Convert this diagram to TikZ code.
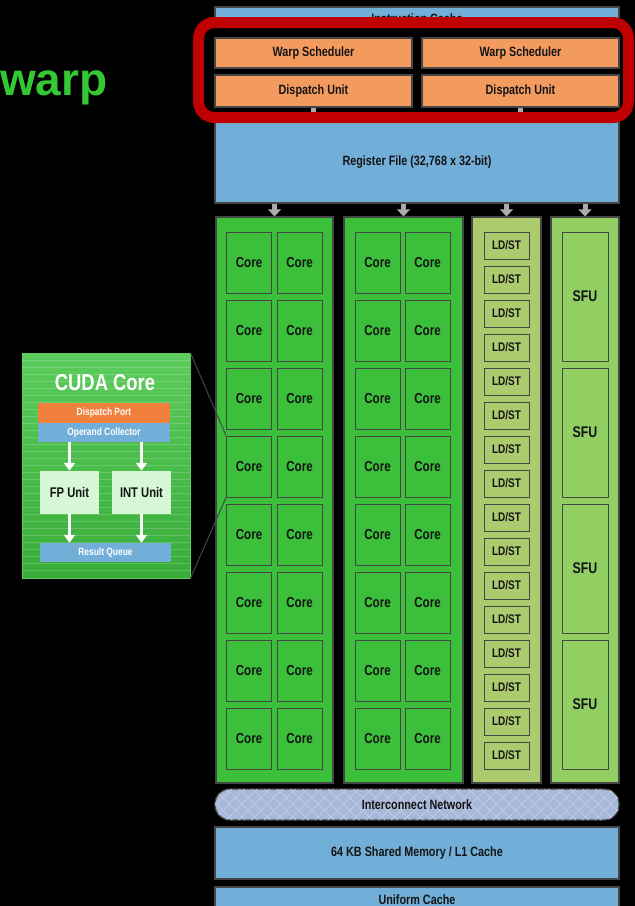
\documentclass[tikz,border=0pt]{standalone}
\usepackage{fontspec}
\setmainfont{Liberation Sans}
\newfontfamily\narrow{Liberation Sans}[FakeStretch=0.8]
\usetikzlibrary{arrows.meta,patterns.meta}
\definecolor{regblue}{RGB}{114,175,216}
\definecolor{schedorange}{RGB}{243,155,95}
\definecolor{portorange}{RGB}{240,128,60}
\definecolor{coregreen}{RGB}{60,192,60}
\definecolor{ldstgreen}{RGB}{172,203,110}
\definecolor{sfugreen}{RGB}{145,207,99}
\definecolor{netblue}{RGB}{168,184,216}
\definecolor{netline}{RGB}{192,204,230}
\definecolor{edge}{RGB}{70,70,70}
\definecolor{ink}{RGB}{20,20,20}
\definecolor{feedgray}{RGB}{170,170,170}
\definecolor{hilite}{RGB}{192,0,0}
\definecolor{warpgreen}{RGB}{52,200,52}
\definecolor{insettop}{RGB}{92,204,92}
\definecolor{insetbot}{RGB}{56,172,56}
\definecolor{palegreen}{RGB}{214,248,214}
\begin{document}
\begin{tikzpicture}
  [x=1pt,y=-1pt,every node/.style={inner sep=0pt,text=ink,font={\narrow\bfseries\fontsize{13.5}{15}\selectfont}}]
  \tikzstyle{unit} = [draw=edge,line width=1.2pt,fill=regblue,minimum width=404pt]
  \tikzstyle{sched} = [draw=edge,line width=1.2pt,fill=schedorange,minimum width=197pt]
  \tikzstyle{lane} = [draw=edge,line width=1.2pt,minimum height=566pt]
  \tikzstyle{core} = [draw=edge,line width=1pt,fill=coregreen,minimum width=45pt,minimum height=61pt,font={\narrow\bfseries\fontsize{14.5}{16}\selectfont}]
  \tikzstyle{ldst} = [draw=edge,line width=1pt,fill=ldstgreen,minimum width=45pt,minimum height=27pt,font={\narrow\bfseries\fontsize{12.5}{14}\selectfont}]
  \tikzstyle{sfu} = [draw=edge,line width=1pt,fill=sfugreen,minimum width=46pt,minimum height=129pt,font={\narrow\bfseries\fontsize{15.5}{17}\selectfont}]
  \tikzstyle{feed} = [draw=feedgray,line width=5pt,-{Triangle[width=13pt,length=7pt]}]
  \tikzstyle{stub} = [draw=feedgray,line width=5pt]
  \tikzstyle{flow} = [draw=white,line width=3.5pt,-{Triangle[width=11pt,length=8pt]}]
  \tikzstyle{bar} = [text=white,minimum width=132pt,font={\narrow\bfseries\fontsize{10.5}{12}\selectfont}]
  \tikzstyle{zoomline} = [draw=edge,line width=1pt]

  \useasboundingbox (0,0) rectangle (635,906);
  \fill[black] (0,0) rectangle (635,906);

  \node[anchor=base west,text=warpgreen,font={\bfseries\fontsize{46}{50}\selectfont}] (warp) at (0,95) {warp};

  % front end
  \node[unit,minimum height=24pt] (ic) at (417,19) {Instruction Cache};
  \node[unit,minimum height=82pt] (rf) at (417,162) {Register File (32,768 x 32-bit)};
  \fill[black,rounded corners=16pt] (198.5,22.5) rectangle (628.5,117.5);
  \node[sched,minimum height=30pt] (ws1) at (313.5,53) {Warp Scheduler};
  \node[sched,minimum height=30pt] (ws2) at (520.5,53) {Warp Scheduler};
  \node[sched,minimum height=32pt] (du1) at (313.5,91) {Dispatch Unit};
  \node[sched,minimum height=32pt] (du2) at (520.5,91) {Dispatch Unit};
  \foreach \src in {du1,du2}
    \draw[stub] (\src.south) -- (\src.south |- rf.north);
  \draw[hilite,line width=11pt,rounded corners=16pt] (198.5,22.5) rectangle (628.5,117.5);

  % execution lanes
  \foreach \lane/\cx/\w/\shade in {c1/274.5/117/coregreen,c2/403.5/119/coregreen,c3/506.5/69/ldstgreen,c4/585/68/sfugreen}
  {
    \node[lane,fill=\shade,minimum width=\w pt] (\lane) at (\cx,500) {};
    \draw[feed] (\lane |- rf.south) -- (\lane.north);
  }
  \foreach \r in {1,...,8}
    \foreach \c/\cx in {1/249,2/299.5,3/377.5,4/427.5}
      \node[core] (core-\r-\c) at (\cx,{262.5+68*(\r-1)}) {Core};
  \foreach \r in {1,...,16}
    \node[ldst] (ls\r) at (506.5,{245.5+34*(\r-1)}) {LD/ST};
  \foreach \r in {1,...,4}
    \node[sfu] (sfu\r) at (585,{296.5+136*(\r-1)}) {SFU};

  % memory side
  \node[unit,fill=netblue,rounded corners=15pt,minimum height=31pt,
    postaction={pattern={Lines[angle=45,distance=9pt,line width=.8pt]},pattern color=netline},
    postaction={pattern={Lines[angle=-45,distance=9pt,line width=.8pt]},pattern color=netline}] (net) at (417,804.5) {Interconnect Network};
  \node[unit,minimum height=52pt] (smem) at (417,853) {64 KB Shared Memory / L1 Cache};
  \node[unit,minimum height=26pt] (uc) at (417,900) {Uniform Cache};

  % cuda core inset
  \node[draw=insettop,line width=.8pt,top color=insettop,bottom color=insetbot,minimum width=168pt,minimum height=225pt] (cc) at (106,465.5) {};
  \foreach \y in {360,367,...,575}
    \draw[white,opacity=.18,line width=.6pt] (cc.west |- 0,\y) -- (cc.east |- 0,\y);
  \node[text=white,font={\narrow\bfseries\fontsize{23}{25}\selectfont}] (cctitle) at (105,383) {CUDA Core};
  \node[bar,fill=portorange,minimum height=20pt] (dp) at (104,413) {Dispatch Port};
  \node[bar,fill=regblue,minimum height=19pt] (oc) at (104,432.5) {Operand Collector};
  \node[fill=palegreen,minimum width=59pt,minimum height=43pt,font={\narrow\bfseries\fontsize{14}{16}\selectfont}] (fp) at (69.5,492.5) {FP Unit};
  \node[fill=palegreen,minimum width=59pt,minimum height=43pt,font={\narrow\bfseries\fontsize{14}{16}\selectfont}] (int) at (141.5,492.5) {INT Unit};
  \node[bar,fill=regblue,minimum width=131pt,minimum height=19pt] (rq) at (105.5,552.5) {Result Queue};
  \foreach \unit in {fp,int}
  {
    \draw[flow] (oc.south -| \unit) -- (\unit.north);
    \draw[flow] (\unit.south) -- (rq.north -| \unit);
  }
  \draw[zoomline] (cc.north east) -- (core-4-1.north west);
  \draw[zoomline] (cc.south east) -- (core-4-1.south west);
\end{tikzpicture}
\end{document}
